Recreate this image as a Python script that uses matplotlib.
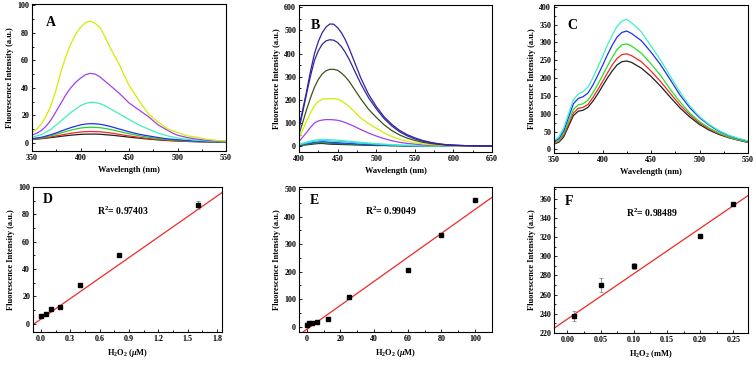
import numpy as np
import matplotlib
matplotlib.use('Agg')
from matplotlib import pyplot as plt
from matplotlib.ticker import AutoMinorLocator, FormatStrFormatter

plt.rcParams['font.family'] = ['Liberation Serif', 'DejaVu Serif']
plt.rcParams['font.weight'] = 'bold'
plt.rcParams['mathtext.fontset'] = 'custom'
plt.rcParams['mathtext.rm'] = 'Liberation Serif:bold'
plt.rcParams['mathtext.it'] = 'Liberation Serif:bold:italic'
plt.rcParams['mathtext.bf'] = 'Liberation Serif:bold'

# ---- panel A : spectra 350-550 nm
wl_a = list(range(350, 500, 5)) + list(range(500, 551, 10))
a_yellow = [7.5, 10, 14, 20, 28, 39, 52, 63, 72, 79, 84, 87.5, 88.5, 87, 84, 77.5, 70, 63.5,
            57, 49, 42, 36.5, 31, 26, 21, 18, 15, 12.5, 10, 8.7, 7.5, 5, 4, 2.5, 1.8, 1.2]
a_violet = [5.5, 7, 9, 12.5, 17, 23, 29, 35, 40, 44, 47, 49.5, 50.5, 50, 48, 45, 42, 39,
            36, 32.5, 29, 26.5, 24, 21.5, 19, 16, 13, 11, 9, 7, 5.5, 3.8, 2.6, 1.8, 1.2, 1]
a_aqua = [4, 5, 6, 8, 10, 13, 16, 19, 22, 24.5, 27, 28.5, 29.5, 29.3, 28.5, 27, 25, 23,
          21, 19, 17, 15, 13, 11.5, 10, 8.5, 7, 6, 5, 4.2, 3.5, 2.5, 1.8, 1.3, 1, 0.8]
a_blue = [3, 3.5, 4, 5, 6, 7.2, 8.5, 9.8, 11, 12, 13, 13.6, 13.9, 13.8, 13.5, 12.8, 12, 11,
          10, 9, 8, 7.1, 6.3, 5.6, 5, 4.4, 3.8, 3.3, 2.8, 2.5, 2.2, 1.6, 1.2, 0.9, 0.7, 0.5]
a_green = [2.8, 3.2, 3.6, 4.4, 5.2, 6.2, 7.2, 8.2, 9.2, 10, 10.7, 11.1, 11.3, 11.2, 11, 10.4, 9.8, 9,
           8.2, 7.4, 6.6, 5.9, 5.2, 4.6, 4, 3.5, 3, 2.6, 2.3, 2, 1.8, 1.3, 1, 0.8, 0.6, 0.5]
a_red = [2.6, 2.9, 3.2, 3.7, 4.3, 5, 5.6, 6.3, 6.9, 7.4, 7.8, 8.1, 8.2, 8.1, 8, 7.6, 7.2, 6.7,
         6.1, 5.5, 5, 4.5, 4, 3.5, 3.1, 2.7, 2.4, 2.1, 1.8, 1.6, 1.4, 1, 0.8, 0.6, 0.5, 0.4]
a_black = [2.5, 2.7, 3, 3.4, 3.8, 4.2, 4.7, 5.1, 5.5, 5.8, 6.1, 6.25, 6.3, 6.3, 6.2, 5.9, 5.6, 5.3,
           4.9, 4.5, 4.1, 3.7, 3.4, 3, 2.7, 2.4, 2.1, 1.8, 1.6, 1.4, 1.3, 1, 0.8, 0.6, 0.5, 0.4]

# ---- panel B : spectra 400-650 nm
wl_b = list(range(400, 480, 5)) + list(range(480, 651, 10))
b_indigo = [84, 160, 240, 325, 400, 452, 490, 515, 528, 527, 512, 490, 460, 422, 380, 338,
            295, 225, 172, 128, 95, 69, 50, 36, 25, 17, 11, 7, 5, 3, 2, 2, 1, 1]
b_navy = [74, 150, 230, 305, 370, 412, 440, 455, 460, 458, 448, 430, 405, 375, 340, 305,
          270, 210, 162, 120, 88, 63, 45, 32, 22, 15, 10, 6, 4, 3, 2, 1, 1, 1]
b_olive = [52, 105, 160, 210, 255, 288, 312, 326, 332, 332, 328, 316, 300, 280, 255, 230,
           205, 160, 125, 93, 68, 49, 35, 25, 17, 12, 8, 5, 4, 3, 2, 1, 1, 1]
b_yellow = [35, 72, 110, 145, 175, 193, 203, 205, 205, 205, 203, 196, 185, 171, 155, 138,
            122, 98, 78, 58, 42, 30, 21, 15, 10, 7, 5, 3, 2, 2, 1, 1, 1, 1]
b_violet = [20, 40, 60, 82, 100, 109, 113, 115, 115, 114, 112, 108, 102, 95, 88, 80,
            72, 57, 44, 33, 24, 17, 12, 9, 6, 4, 3, 2, 2, 1, 1, 1, 1, 1]
b_aqua = [8, 13, 18, 22, 26, 28, 29, 29, 28, 27, 26, 24.5, 23, 21.5, 20, 18.5,
          17, 14, 11, 9, 7, 5, 4, 3, 2, 1, 1, 1, 1, 0, 0, 0, 0, 0]
b_cyan = [6, 10, 14, 18, 21, 23, 24, 24, 23, 22, 21, 20, 19, 17.5, 16, 14.5,
          13, 11, 9, 7, 5, 4, 3, 2, 2, 1, 1, 1, 0, 0, 0, 0, 0, 0]
b_blue = [5, 8, 11, 14, 17, 19, 20, 19, 17, 16, 15, 14, 13, 12, 11, 10,
          9, 7, 6, 5, 4, 3, 2, 2, 1, 1, 1, 0, 0, 0, 0, 0, 0, 0]
b_green = [4, 6, 8, 10.5, 13, 14.5, 15, 14, 13, 12, 11, 10.5, 10, 9, 8, 7.5,
           7, 6, 5, 4, 3, 2, 2, 1, 1, 1, 0, 0, 0, 0, 0, 0, 0, 0]
b_black = [3, 4.5, 6, 8, 10, 11.5, 12, 10.5, 9, 8.5, 8, 7.5, 7, 6.5, 6, 5.5,
           5, 4, 3, 3, 2, 2, 1, 1, 1, 0, 0, 0, 0, 0, 0, 0, 0, 0]

# ---- panel C : spectra 350-550 nm
wl_c = [350, 355, 360, 365, 370, 375, 380, 385, 390, 395, 400, 405, 410, 415, 420, 425, 430,
        440, 450, 460, 470, 480, 490, 500, 510, 520, 530, 540, 550]
c_aqua = [25, 35, 60, 100, 140, 155, 162, 175, 200, 230, 260, 292, 320, 345, 360, 365, 355,
          330, 290, 250, 205, 160, 122, 92, 70, 53, 40, 31, 24]
c_blue = [22, 30, 52, 90, 128, 143, 148, 158, 180, 207, 235, 265, 292, 315, 328, 332, 325,
          305, 273, 237, 195, 152, 117, 89, 68, 51, 39, 30, 23]
c_green = [18, 25, 45, 78, 112, 125, 128, 138, 158, 182, 207, 233, 258, 280, 293, 296, 290,
           270, 240, 207, 168, 133, 102, 78, 60, 46, 35, 27, 21]
c_red = [16, 22, 40, 70, 102, 115, 118, 126, 145, 167, 190, 214, 237, 255, 266, 268, 263,
         246, 220, 190, 157, 124, 97, 74, 57, 44, 34, 26, 20]
c_black = [15, 20, 35, 65, 95, 107, 110, 118, 135, 155, 178, 200, 220, 237, 246, 248, 244,
           228, 205, 177, 146, 116, 91, 70, 54, 42, 33, 26, 20]

# ---- panels D, E, F : calibration points
d_x = [0, 0.05, 0.1, 0.2, 0.4, 0.8, 1.6]
d_y = [6, 7.5, 10.5, 12.5, 28, 50.5, 87]
d_err = [0.8, 0.8, 0.8, 0.8, 0.8, 1, 3]
d_fit = (50.0, 3.4)   # slope, intercept

e_x = [0, 1.5, 3, 6.25, 12.5, 25, 60, 80, 100]
e_y = [5, 11, 12, 15, 26, 108, 205, 332, 460]
e_fit = (4.37, -10.3)

f_x = [0.01, 0.05, 0.1, 0.2, 0.25]
f_y = [237.5, 270, 290, 321, 354]
f_err = [5, 7, 3, 2, 2]
f_fit = (473, 234.4)

W, H = 756, 365
fig = plt.figure(figsize=(W / 100, H / 100), dpi=100)
TICK_FS = 5.8
LAB_FS = 6.0


def make_ax(left, top, right, bottom):
    ax = fig.add_axes([left / W, 1 - bottom / H, (right - left) / W, (bottom - top) / H])
    for s in ax.spines.values():
        s.set_linewidth(0.8)
    ax.tick_params(direction='in', which='both', labelsize=TICK_FS, width=0.6, pad=2)
    ax.tick_params(which='major', length=2.5)
    ax.tick_params(which='minor', length=1.5)
    ax.xaxis.set_minor_locator(AutoMinorLocator(2))
    ax.yaxis.set_minor_locator(AutoMinorLocator(2))
    ax.set_ylabel('Fluorescence Intensity (a.u.)', fontsize=LAB_FS, fontweight='bold', labelpad=2)
    return ax


def letter(ax, txt, x, y):
    ax.text(x, y, txt, transform=ax.transAxes, fontsize=10, fontweight='bold', ha='center', va='center')


# A
ax = make_ax(32, 4, 226, 151)
for ys, c in [(a_black, '#202020'), (a_red, '#f02828'), (a_green, '#28d028'), (a_blue, '#2030f0'),
              (a_aqua, '#40f0b8'), (a_violet, '#a040f0'), (a_yellow, '#d4ec00')]:
    ax.plot(wl_a, ys, color=c, lw=0.9)
ax.set_xlim(350, 550)
ax.set_ylim(-6, 101)
ax.set_xticks(range(350, 551, 50))
ax.set_yticks(range(0, 101, 20))
ax.set_xlabel('Wavelength (nm)', fontsize=LAB_FS, fontweight='bold', labelpad=3)
letter(ax, 'A', 0.098, 0.874)

# B
ax = make_ax(299, 5, 492, 152)
for ys, c in [(b_black, '#202020'), (b_green, '#208a30'), (b_blue, '#2040f0'), (b_cyan, '#40c8f0'),
              (b_aqua, '#40f0c0'), (b_violet, '#a040f0'), (b_yellow, '#cdf000'),
              (b_olive, '#3a5418'), (b_navy, '#2a2a98'), (b_indigo, '#3a1ea8')]:
    ax.plot(wl_b, ys, color=c, lw=0.9)
ax.set_xlim(400, 650)
ax.set_ylim(-25, 610)
ax.set_xticks(range(400, 651, 50))
ax.set_yticks(range(0, 601, 100))
ax.set_xlabel('Wavelength (nm)', fontsize=LAB_FS, fontweight='bold', labelpad=3)
letter(ax, 'B', 0.083, 0.86)

# C
ax = make_ax(554, 5, 748, 153)
for ys, c in [(c_black, '#202020'), (c_red, '#f02828'), (c_green, '#28e028'),
              (c_blue, '#2030f0'), (c_aqua, '#40f0c0')]:
    ax.plot(wl_c, ys, color=c, lw=0.9)
ax.set_xlim(350, 550)
ax.set_ylim(-10, 405)
ax.set_xticks(range(350, 551, 50))
ax.set_yticks(range(0, 401, 50))
ax.set_xlabel('Wavelength (nm)', fontsize=LAB_FS, fontweight='bold', labelpad=3)
letter(ax, 'C', 0.095, 0.86)


def calib(box, xs, ys, err, fit, xlim, ylim, xt, yt, xfmt, xlabel, r2, rpos):
    ax = make_ax(*box)
    fx = np.array(xlim)
    ax.plot(fx, fit[0] * fx + fit[1], color='#f02828', lw=0.9, zorder=1)
    if err is not None:
        ax.errorbar(xs, ys, yerr=err, fmt='none', ecolor='#888888', elinewidth=0.6,
                    capsize=1.5, capthick=0.6, zorder=2)
    ax.plot(xs, ys, 's', color='black', ms=2.8, zorder=3)
    ax.set_xlim(*xlim)
    ax.set_ylim(*ylim)
    ax.set_xticks(xt)
    ax.set_yticks(yt)
    ax.xaxis.set_major_formatter(FormatStrFormatter(xfmt))
    ax.set_xlabel(xlabel, fontsize=LAB_FS, fontweight='bold', labelpad=3)
    ax.text(rpos[0], rpos[1], r2, transform=ax.transAxes, fontsize=7, fontweight='bold',
            ha='center', va='center')
    return ax


ax = calib((33, 187, 222, 332), d_x, d_y, d_err, d_fit, (-0.08, 1.85), (-6, 100),
           np.arange(0, 1.81, 0.3), range(0, 101, 20), '%.1f', r'H$_2$O$_2$ ($\mu$M)',
           r'R$^2$= 0.97403', (0.478, 0.837))
letter(ax, 'D', 0.077, 0.917)

ax = calib((299, 187, 492, 332), e_x, e_y, None, e_fit, (-4.6, 110), (-20, 508),
           range(0, 101, 20), range(0, 501, 100), '%d', r'H$_2$O$_2$ ($\mu$M)',
           r'R$^2$= 0.99049', (0.477, 0.837))
letter(ax, 'E', 0.078, 0.91)

ax = calib((554, 187, 748, 333), f_x, f_y, f_err, f_fit, (-0.02, 0.272), (220, 372),
           np.arange(0, 0.251, 0.05), range(220, 361, 20), '%.2f', r'H$_2$O$_2$ (mM)',
           r'R$^2$= 0.98489', (0.503, 0.824))
letter(ax, 'F', 0.08, 0.904)

fig.savefig('out.png', dpi=100)
